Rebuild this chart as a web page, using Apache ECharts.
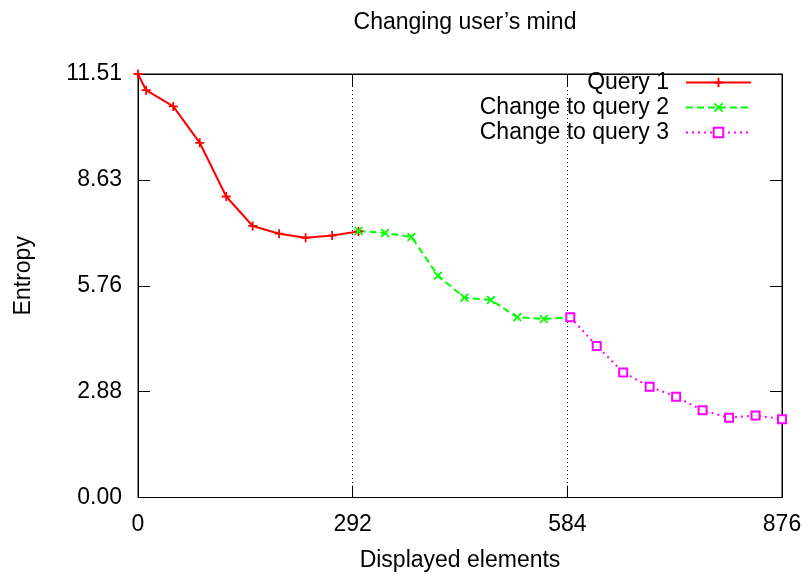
<!DOCTYPE html>
<html>
<head>
<meta charset="utf-8">
<script src="https://cdn.jsdelivr.net/npm/echarts@6/dist/echarts.min.js"></script>
<style>html,body{margin:0;padding:0;background:#fff;}#c{width:804px;height:575px;}</style>
</head>
<body>
<div id="c"></div>
<script>
const titleText = 'Changing user\u2019s mind';
const xName = 'Displayed elements';
const yName = 'Entropy';
const seriesNames = ['Query 1', 'Change to query 2', 'Change to query 3'];
const xTicks = [0, 292, 584, 876];
const yTickLabels = ['0.00', '2.88', '5.76', '8.63', '11.51'];
const yMax = 11.51;

const x1 = [0, 11, 48, 84, 120, 156, 192, 228, 264, 300];
const y1 = [11.51, 11.07, 10.63, 9.64, 8.18, 7.38, 7.17, 7.06, 7.12, 7.23];
const x2 = [300, 336, 372, 408, 444, 480, 516, 552, 588];
const y2 = [7.24, 7.19, 7.08, 6.03, 5.43, 5.37, 4.90, 4.85, 4.90];
const x3 = [588, 624, 660, 696, 732, 768, 804, 840, 876];
const y3 = [4.90, 4.12, 3.40, 3.01, 2.74, 2.37, 2.17, 2.23, 2.13];

const pair = (xs, ys) => xs.map((x, i) => [x, ys[i]]);
const FONT = 'Liberation Sans';
const FS = 23;

const plusPath = 'path://M4,0H6V4H10V6H6V10H4V6H0V4H4Z';
const crossPath = 'path://M1.4,0L5,3.6L8.6,0L10,1.4L6.4,5L10,8.6L8.6,10L5,6.4L1.4,10L0,8.6L3.6,5L0,1.4Z';

const chart = echarts.init(document.getElementById('c'), null, {renderer: 'canvas'});
const xMin = xTicks[0], xMax = xTicks[xTicks.length - 1], xInt = xTicks[1] - xTicks[0];
const yInt = yMax / (yTickLabels.length - 1);

const axisLineStyle = () => ({show: true, onZero: false, lineStyle: {color: '#000', width: 1}});
const tickStyle = () => ({show: true, inside: true, length: 12, lineStyle: {color: '#000', width: 1}});

chart.setOption({
  animation: false,
  backgroundColor: '#fff',
  textStyle: {fontFamily: FONT},
  title: {
    text: titleText, left: 460, top: 6, textAlign: 'center',
    textStyle: {fontFamily: FONT, fontSize: FS, fontWeight: 'normal', color: '#000'}
  },
  grid: {left: 138, right: 22, top: 74, bottom: 77.5, show: true, borderColor: '#000', borderWidth: 1,
    backgroundColor: 'transparent', containLabel: false, outerBoundsMode: 'none'},
  legend: {
    orient: 'vertical', right: 47, top: 66, align: 'right',
    itemWidth: 65, itemHeight: 12, itemGap: 2,
    textStyle: {fontFamily: FONT, fontSize: FS, color: '#000', padding: [0, 12, 0, 0]},
    data: seriesNames
  },
  xAxis: [{
    type: 'value', min: xMin, max: xMax, interval: xInt, position: 'bottom',
    axisLine: axisLineStyle(), axisTick: tickStyle(),
    axisLabel: {fontFamily: FONT, fontSize: FS, color: '#000', margin: 16},
    splitLine: {show: true, lineStyle: {color: '#000', type: [1, 3], width: 1}},
    name: xName, nameLocation: 'middle', nameGap: 52,
    nameTextStyle: {fontFamily: FONT, fontSize: FS, color: '#000'}
  }, {
    type: 'value', min: xMin, max: xMax, interval: xInt, position: 'top',
    axisLine: axisLineStyle(), axisTick: tickStyle(), axisLabel: {show: false}, splitLine: {show: false}
  }],
  yAxis: [{
    type: 'value', min: 0, max: yMax, interval: yInt, position: 'left',
    axisLine: axisLineStyle(), axisTick: tickStyle(),
    axisLabel: {fontFamily: FONT, fontSize: FS, color: '#000', margin: 16,
      formatter: (v) => yTickLabels[Math.round(v / yInt)]},
    splitLine: {show: false},
    name: yName, nameLocation: 'middle', nameGap: 103, nameRotate: 90,
    nameTextStyle: {fontFamily: FONT, fontSize: FS, color: '#000', padding: [0, 0, 0, 20]}
  }, {
    type: 'value', min: 0, max: yMax, interval: yInt, position: 'right',
    axisLine: axisLineStyle(), axisTick: tickStyle(), axisLabel: {show: false}, splitLine: {show: false}
  }],
  series: [{
    name: seriesNames[0], type: 'line', data: pair(x1, y1), clip: false,
    symbol: plusPath, symbolSize: 9, showAllSymbol: true,
    lineStyle: {color: '#ff0000', width: 2, type: 'solid'},
    itemStyle: {color: '#ff0000'}
  }, {
    name: seriesNames[1], type: 'line', data: pair(x2, y2), clip: false,
    symbol: crossPath, symbolSize: 9, showAllSymbol: true,
    lineStyle: {color: '#00ff00', width: 2, type: [7, 4]},
    itemStyle: {color: '#00ff00'}
  }, {
    name: seriesNames[2], type: 'line', data: pair(x3, y3), clip: false,
    symbol: 'rect', symbolSize: 8, showAllSymbol: true,
    lineStyle: {color: '#ff00ff', width: 2, type: [2, 4]},
    itemStyle: {color: '#ffffff', borderColor: '#ff00ff', borderWidth: 2}
  }]
});
</script>
</body>
</html>
